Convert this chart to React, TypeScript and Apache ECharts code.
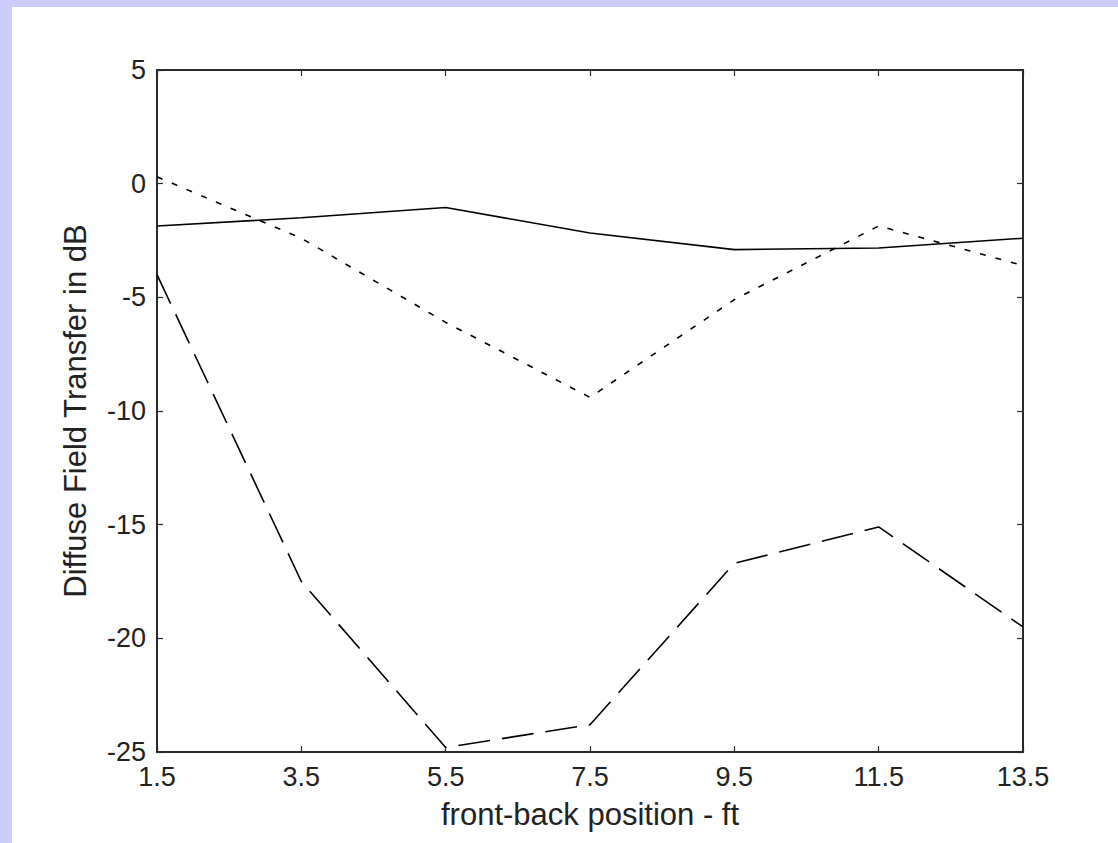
import React, { useEffect, useRef } from "react";
import * as echarts from "echarts";

const positions = [1.5, 3.5, 5.5, 7.5, 9.5, 11.5, 13.5];
const solidSeries = [-1.86, -1.5, -1.05, -2.17, -2.9, -2.83, -2.4];
const shortDashSeries = [0.3, -2.4, -6.1, -9.4, -5.1, -1.86, -3.6];
const longDashSeries = [-4.0, -17.5, -24.8, -23.8, -16.7, -15.1, -19.5];

const xTitle = "front-back position - ft";
const yTitle = "Diffuse Field Transfer in dB";

const toPairs = (ys: number[]) => positions.map((x, i) => [x, ys[i]]);

export default function App() {
  const ref = useRef<HTMLDivElement>(null);
  useEffect(() => {
    if (!ref.current) return;
    const chart = echarts.init(ref.current, undefined, { renderer: "svg" });
    const font = "'Liberation Sans', Arial, sans-serif";
    const axisLine = { show: true, onZero: false, lineStyle: { color: "#2a2a2a", width: 2 } };
    const tick = { show: true, inside: true, length: 6, lineStyle: { color: "#2a2a2a", width: 1.2 } };
    const label = { color: "#222", fontSize: 27, fontFamily: font };
    const nameStyle = { color: "#222", fontSize: 31, fontFamily: font };
    chart.setOption({
      animation: false,
      backgroundColor: "#ffffff",
      grid: { left: 145, top: 63, width: 866, height: 682, containLabel: false },
      xAxis: [
        {
          type: "value",
          min: 1.5,
          max: 13.5,
          interval: 2,
          axisLine,
          axisTick: tick,
          splitLine: { show: false },
          axisLabel: { ...label, margin: 11, formatter: (v: number) => String(v) },
          name: xTitle,
          nameLocation: "middle",
          nameGap: 47,
          nameTextStyle: nameStyle,
        },
        {
          type: "value",
          position: "top",
          min: 1.5,
          max: 13.5,
          interval: 2,
          axisLine,
          axisTick: tick,
          axisLabel: { show: false },
          splitLine: { show: false },
        },
      ],
      yAxis: [
        {
          type: "value",
          min: -25,
          max: 5,
          interval: 5,
          axisLine,
          axisTick: tick,
          splitLine: { show: false },
          axisLabel: { ...label, margin: 11 },
          name: yTitle,
          nameLocation: "middle",
          nameGap: 66,
          nameTextStyle: nameStyle,
        },
        {
          type: "value",
          position: "right",
          min: -25,
          max: 5,
          interval: 5,
          axisLine,
          axisTick: tick,
          axisLabel: { show: false },
          splitLine: { show: false },
        },
      ],
      series: [
        {
          type: "line",
          data: toPairs(solidSeries),
          symbol: "none",
          lineStyle: { color: "#000", width: 1.6, type: "solid" },
        },
        {
          type: "line",
          data: toPairs(shortDashSeries),
          symbol: "none",
          lineStyle: { color: "#000", width: 1.6, type: [6, 10] },
        },
        {
          type: "line",
          data: toPairs(longDashSeries),
          symbol: "none",
          lineStyle: { color: "#000", width: 1.6, type: [32, 12] },
        },
      ],
    });
    return () => chart.dispose();
  }, []);
  return (
    <div
      style={{
        position: "fixed",
        left: 0,
        top: 0,
        width: 1118,
        height: 843,
        background: "#ccccff",
      }}
    >
      <div
        ref={ref}
        style={{ position: "absolute", left: 12, top: 7, width: 1106, height: 836 }}
      />
    </div>
  );
}
